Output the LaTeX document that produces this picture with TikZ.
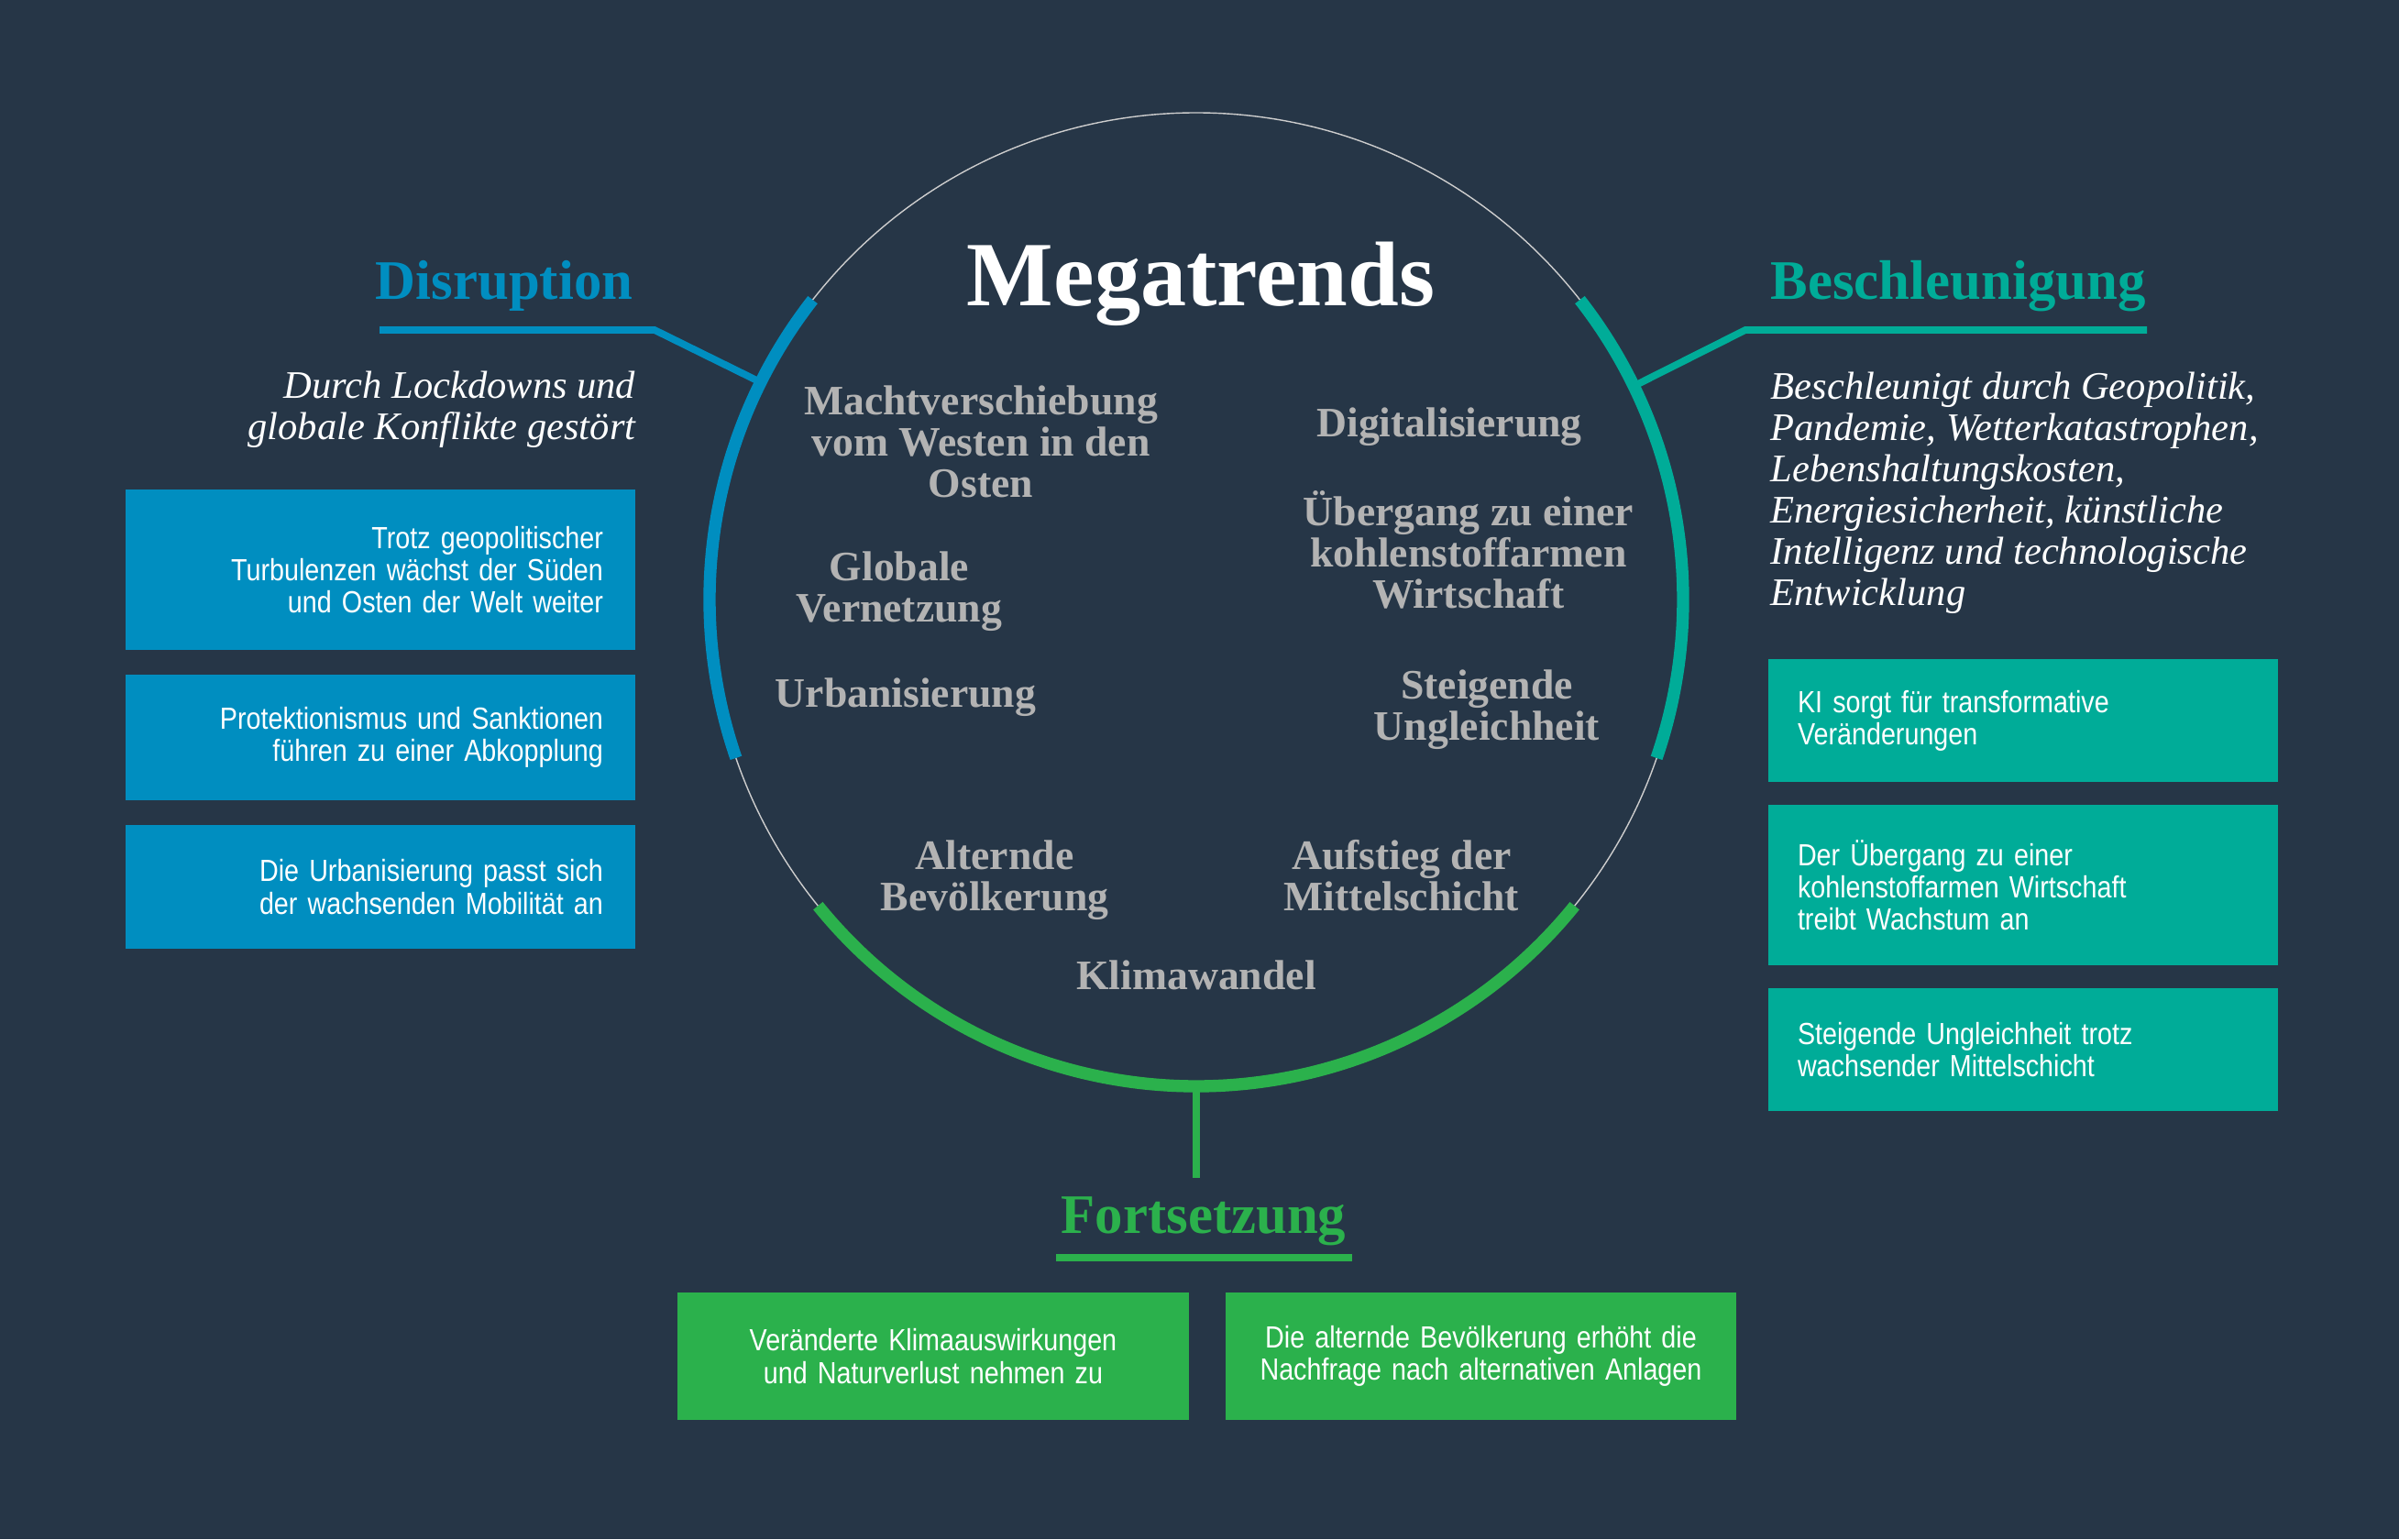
\documentclass[tikz,border=0pt]{standalone}
\usepackage{fontspec}
\setmainfont{Liberation Serif}
\newfontfamily\cardfont[FakeStretch=0.86]{Liberation Sans}
\usetikzlibrary{positioning, calc}

\definecolor{bgnavy}{RGB}{38,54,71}
\definecolor{disblue}{RGB}{0,142,192}
\definecolor{accteal}{RGB}{0,172,152}
\definecolor{contgreen}{RGB}{43,177,76}
\definecolor{trendgray}{RGB}{179,179,179}
\definecolor{ringgray}{RGB}{205,205,205}

\tikzset{
  head/.style={font=\bfseries\fontsize{17.3}{20}\selectfont, inner sep=0pt},
  lead/.style={font=\itshape\fontsize{12.1}{12.8}\selectfont, text=white, inner sep=0pt},
  trend/.style={font=\bfseries\fontsize{13}{12.8}\selectfont, text=trendgray, align=center, inner sep=0pt},
  card/.style={text width=4.86cm, inner xsep=0.35cm, inner ysep=0pt, text=white,
    font=\cardfont\fontsize{9.5}{10}\selectfont},
  discard/.style={card, fill=disblue, align=right},
  acccard/.style={card, fill=accteal, align=left, text width=4.92cm, inner xsep=0.32cm},
  contcard/.style={card, fill=contgreen, align=center},
  rule/.style={line width=2.2pt},
  band/.style={line width=3.8pt}
}

\begin{document}
\begin{tikzpicture}
\fill[bgnavy] (0,0) rectangle (26.17,16.79);
\useasboundingbox (0,0) rectangle (26.17,16.79);

% ring of megatrends
\coordinate (c) at (13.05,10.25);
\draw[ringgray, line width=0.4pt] (c) circle (5.31);
\draw[disblue, band] (c) ++(142:5.31) arc (142:199:5.31);
\draw[accteal, band] (c) ++(-19:5.31) arc (-19:38:5.31);
\draw[contgreen, band] (c) ++(219:5.31) arc (219:321:5.31);
\path (c) ++(153.5:5.31) coordinate (disjoin);
\path (c) ++(26:5.31) coordinate (accjoin);
\path (c) ++(270:5.31) coordinate (contjoin);

\node[font=\bfseries\fontsize{28.5}{30}\selectfont, text=white, anchor=base, inner sep=0pt] (mega) at (13.10,13.45) {Megatrends};

\node[trend] (shift) at (10.70,11.97) {Machtverschiebung\\vom Westen in den\\Osten};
\node[trend] (netz) at (9.81,10.34) {Globale\\Vernetzung};
\node[trend] (urban) at (9.88,9.18) {Urbanisierung};
\node[trend] (digital) at (15.81,12.13) {Digitalisierung};
\node[trend] (carbon) at (16.02,10.79) {Übergang zu einer\\kohlenstoffarmen\\Wirtschaft};
\node[trend] (unequal) at (16.22,9.05) {Steigende\\Ungleichheit};
\node[trend] (aging) at (10.85,7.19) {Alternde\\Bevölkerung};
\node[trend] (middle) at (15.29,7.24) {Aufstieg der\\Mittelschicht};
\node[trend] (climate) at (13.05,6.15) {Klimawandel};

% Disruption
\node[head, text=disblue, anchor=base east] (dis) at (6.91,13.52) {Disruption};
\coordinate (disL) at (4.14,13.19);
\coordinate (disK) at (7.14,13.19);
\draw[disblue, rule] (disL) -- (disK) -- (disjoin);
\node[lead, anchor=east, align=right] (dislead) at (6.94,12.32) {Durch Lockdowns und\\globale Konflikte gestört};
\node[discard, minimum height=1.75cm] (dis1) at (4.15,10.575) {Trotz geopolitischer\\Turbulenzen wächst der Süden\\und Osten der Welt weiter};
\node[discard, minimum height=1.37cm] (dis2) at (4.15,8.745) {Protektionismus und Sanktionen\\führen zu einer Abkopplung};
\node[discard, minimum height=1.35cm] (dis3) at (4.15,7.115) {Die Urbanisierung passt sich\\der wachsenden Mobilität an};

% Beschleunigung
\node[head, text=accteal, anchor=base west] (acc) at (19.31,13.52) {Beschleunigung};
\coordinate (accL) at (19.04,13.19);
\coordinate (accR) at (23.42,13.19);
\draw[accteal, rule] (accR) -- (accL) -- (accjoin);
\node[lead, anchor=west, align=left] (acclead) at (19.31,11.41) {Beschleunigt durch Geopolitik,\\Pandemie, Wetterkatastrophen,\\Lebenshaltungskosten,\\Energiesicherheit, künstliche\\Intelligenz und technologische\\Entwicklung};
\node[acccard, minimum height=1.34cm] (acc1) at (22.07,8.93) {KI sorgt für transformative\\Veränderungen};
\node[acccard, minimum height=1.75cm] (acc2) at (22.07,7.135) {Der Übergang zu einer\\kohlenstoffarmen Wirtschaft\\treibt Wachstum an};
\node[acccard, minimum height=1.34cm] (acc3) at (22.07,5.34) {Steigende Ungleichheit trotz\\wachsender Mittelschicht};

% Fortsetzung
\coordinate (contstem) at (13.05,3.94);
\draw[contgreen, rule] (contjoin) -- (contstem);
\node[head, text=contgreen, anchor=base] (cont) at (13.13,3.34) {Fortsetzung};
\coordinate (contL) at (11.52,3.07);
\coordinate (contR) at (14.75,3.07);
\draw[contgreen, rule] (contL) -- (contR);
\node[contcard, text width=4.88cm, minimum height=1.39cm] (cont1) at (10.18,1.995) {Veränderte Klimaauswirkungen\\und Naturverlust nehmen zu};
\node[contcard, text width=4.87cm, minimum height=1.39cm] (cont2) at (16.155,1.995) {Die alternde Bevölkerung erhöht die\\Nachfrage nach alternativen Anlagen};
\end{tikzpicture}
\end{document}
